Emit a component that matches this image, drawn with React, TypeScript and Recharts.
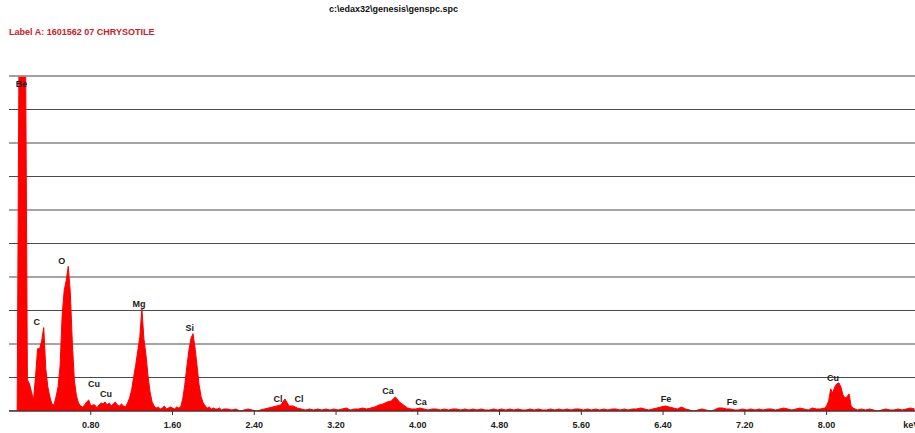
// EDAX Genesis EDS spectrum — chrysotile sample, counts vs keV.
import React from 'react'
import {
  ComposedChart,
  Area,
  XAxis,
  YAxis,
  CartesianGrid,
  ReferenceLine,
  ReferenceDot,
} from 'recharts'

const TITLE = 'c:\\edax32\\genesis\\genspc.spc'
const SAMPLE_LABEL = 'Label A: 1601562 07 CHRYSOTILE'

// Fine channels, 0.00 – 2.10 keV every 0.02 keV (Be, C, O, Cu L, Mg, Si)
const LOW_START = 0
const LOW_STEP = 0.02
const lowCounts = [
  0, 0, 0, 0, 0, 1200, 1200, 1200, 1200, 93,
  81, 57, 33, 105, 186, 186, 210, 249, 126, 72,
  42, 21, 18, 42, 72, 135, 285, 360, 390, 432,
  354, 200, 90, 45, 24, 15, 12, 18, 27, 33,
  15, 18, 18, 9, 18, 24, 21, 27, 18, 24,
  15, 21, 27, 18, 15, 21, 15, 12, 24, 39,
  63, 102, 138, 180, 222, 306, 216, 168, 105, 57,
  27, 15, 9, 12, 6, 9, 15, 6, 9, 12,
  9, 6, 12, 9, 12, 36, 78, 132, 180, 216,
  231, 189, 135, 78, 42, 24, 15, 9, 12, 6,
  9, 6, 6, 9, 3, 6,
]

// Background 2.14 – 7.98 keV every 0.04 keV (Cl, Ca, Fe)
const MID_START = 2.14
const MID_STEP = 0.04
const midCounts = [
  6, 3, 6, 0, 3, 6, 3, 0, 3, 6,
  9, 12, 15, 18, 36, 15, 15, 9, 6, 3,
  6, 3, 6, 3, 6, 3, 6, 3, 6, 9,
  3, 6, 6, 9, 6, 9, 12, 18, 21, 27,
  30, 42, 27, 18, 9, 6, 6, 9, 6, 3,
  6, 6, 3, 6, 3, 6, 6, 3, 6, 3,
  6, 3, 6, 3, 3, 6, 3, 6, 3, 6,
  3, 6, 3, 3, 6, 3, 6, 3, 3, 6,
  3, 6, 3, 6, 3, 6, 6, 3, 6, 3,
  6, 3, 6, 3, 6, 6, 3, 6, 3, 6,
  6, 9, 6, 3, 6, 9, 12, 15, 12, 9,
  6, 12, 6, 3, 0, 3, 6, 3, 0, 3,
  9, 9, 6, 6, 3, 3, 6, 3, 6, 3,
  6, 3, 6, 6, 3, 6, 9, 6, 3, 6,
  9, 6, 3, 9, 6, 6, 9,
]

// Cu K alpha, 8.00 – 8.30 keV every 0.02 keV
const CU_START = 8.0
const CU_STEP = 0.02
const cuCounts = [15, 30, 66, 54, 72, 81, 84, 72, 48, 39, 42, 51, 15, 9, 6, 3]

// Tail 8.34 – 8.86 keV every 0.04 keV
const TAIL_START = 8.34
const TAIL_STEP = 0.04
const tailCounts = [6, 3, 6, 3, 0, 3, 6, 3, 3, 6, 3, 6, 9, 6]

// Peak identification labels
const peakNames = ['Be', 'C', 'O', 'Cu', 'Cu', 'Mg', 'Si', 'Cl', 'Cl', 'Ca', 'Ca', 'Fe', 'Fe', 'Cu']
const peakKeV = [0.122, 0.271, 0.516, 0.832, 0.949, 1.272, 1.768, 2.632, 2.838, 3.708, 4.031, 6.429, 7.075, 8.063]
const peakLabelCounts = [976, 266, 448, 81, 51, 319, 248, 36, 36, 61, 28, 36, 26, 99]

const tickKeV = [0.8, 1.6, 2.4, 3.2, 4.0, 4.8, 5.6, 6.4, 7.2, 8.0, 8.8]
const tickLabels = ['0.80', '1.60', '2.40', '3.20', '4.00', '4.80', '5.60', '6.40', '7.20', '8.00', 'keV']
const countTicks = [0, 100, 200, 300, 400, 500, 600, 700, 800, 900, 1000]

const KEV_MAX = 8.865
const FONT = '"Liberation Sans", Arial, sans-serif'

function segment(start: number, step: number, counts: number[]) {
  return counts.map((c, i) => ({ keV: +(start + i * step).toFixed(3), counts: c }))
}

const spectrum = [
  ...segment(LOW_START, LOW_STEP, lowCounts),
  ...segment(MID_START, MID_STEP, midCounts),
  ...segment(CU_START, CU_STEP, cuCounts),
  ...segment(TAIL_START, TAIL_STEP, tailCounts),
]

function KevTick(props: any) {
  const { x, y, payload } = props
  const idx = tickKeV.findIndex((t) => Math.abs(t - payload.value) < 1e-6)
  const label = idx >= 0 ? tickLabels[idx] : ''
  const isUnit = label === 'keV'
  return (
    <g>
      {!isUnit && <line x1={x} x2={x} y1={y - 4} y2={y} stroke="#333" strokeWidth={1} />}
      <text
        x={x + (isUnit ? 3 : 0)}
        y={y + 13}
        textAnchor="middle"
        fontFamily={FONT}
        fontSize={9}
        fontWeight="bold"
        fill="#222"
      >
        {label}
      </text>
    </g>
  )
}

export default function App() {
  return (
    <div
      style={{
        position: 'absolute',
        left: 0,
        top: 0,
        width: 915,
        height: 433,
        background: '#fff',
        overflow: 'hidden',
      }}
    >
      <div
        style={{
          position: 'absolute',
          left: 329,
          top: 4,
          fontFamily: FONT,
          fontSize: 9,
          fontWeight: 'bold',
          color: '#111',
          whiteSpace: 'nowrap',
        }}
      >
        {TITLE}
      </div>
      <div
        style={{
          position: 'absolute',
          left: 9,
          top: 27,
          fontFamily: FONT,
          fontSize: 9,
          fontWeight: 'bold',
          color: '#c8202a',
          whiteSpace: 'nowrap',
        }}
      >
        {SAMPLE_LABEL}
      </div>

      <ComposedChart
        width={915}
        height={433}
        data={spectrum}
        margin={{ top: 76, right: 0, bottom: 0, left: 9 }}
      >
        <CartesianGrid vertical={false} stroke="#4a4a4a" strokeWidth={1} />
        <XAxis
          dataKey="keV"
          type="number"
          domain={[0, KEV_MAX]}
          allowDataOverflow
          ticks={tickKeV}
          interval={0}
          height={22}
          tickSize={4}
          tickMargin={0}
          tickLine={false}
          axisLine={{ stroke: '#333' }}
          tick={<KevTick />}
        />
        <YAxis
          hide
          type="number"
          domain={[0, 1000]}
          ticks={countTicks}
          allowDataOverflow
        />
        <ReferenceLine y={1000} stroke="#a0a0a0" strokeWidth={1.5} />
        <Area
          dataKey="counts"
          type="linear"
          stroke="#ff0000"
          strokeWidth={1}
          fill="#ff0000"
          fillOpacity={1}
          baseValue={0}
          dot={false}
          activeDot={false}
          isAnimationActive={false}
        />
        {peakNames.map((name, i) => (
          <ReferenceDot
            key={`${name}-${i}`}
            x={peakKeV[i]}
            y={peakLabelCounts[i]}
            r={0}
            fill="none"
            stroke="none"
            ifOverflow="visible"
            label={{
              value: name,
              position: 'center',
              fill: '#1a1a1a',
              fontSize: 9,
              fontWeight: 'bold',
              fontFamily: FONT,
            }}
          />
        ))}
      </ComposedChart>
    </div>
  )
}
